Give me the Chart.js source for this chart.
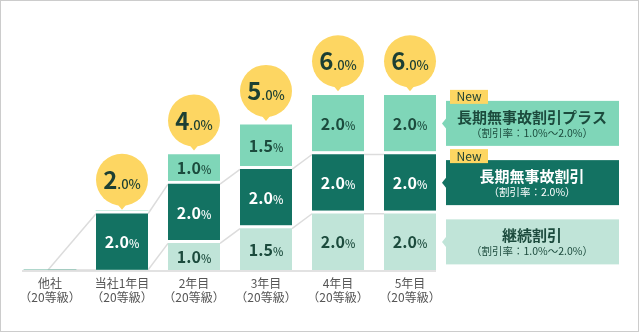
<!DOCTYPE html>
<html>
<head>
<meta charset="utf-8">
<script src="https://cdn.jsdelivr.net/npm/chart.js@4.4.1/dist/chart.umd.min.js"></script>
<style>
  html, body { margin: 0; padding: 0; background: #fff; }
  #wrap { position: relative; width: 640px; height: 333px; }
</style>
</head>
<body>
<div id="wrap"><canvas id="discountChart" width="640" height="333"></canvas></div>
<script>
// categories (x axis, two lines each)
const categories = [
  ['他社', '（20等級）'],
  ['当社1年目', '（20等級）'],
  ['2年目', '（20等級）'],
  ['3年目', '（20等級）'],
  ['4年目', '（20等級）'],
  ['5年目', '（20等級）']
];
// discount rates (%) per year, stacked bottom -> top
const keizoku = [0, 0, 1.0, 1.5, 2.0, 2.0];       // 継続割引
const mujiko = [0, 2.0, 2.0, 2.0, 2.0, 2.0];      // 長期無事故割引
const mujikoPlus = [0, 0, 1.0, 1.5, 2.0, 2.0];    // 長期無事故割引プラス

const seriesNames = ['継続割引', '長期無事故割引', '長期無事故割引プラス'];
const rateNotes = ['（割引率：1.0%〜2.0%）', '（割引率：2.0%）', '（割引率：1.0%〜2.0%）'];
const isNew = [false, true, true];

const colors = ['#c0e4d8', '#137262', '#7fd6b8'];
const textColors = ['#1c4b3d', '#ffffff', '#1c4b3d'];
const GAP = 3;
const FONT = "'Noto Sans CJK JP', 'Noto Sans', sans-serif";

// draws "2.0" big + "%" small, centered on x, at text baseline y
function drawPct(ctx, x, y, num, bigFont, smallFont, color) {
  ctx.font = bigFont;
  const w1 = ctx.measureText(num).width;
  ctx.font = smallFont;
  const w2 = ctx.measureText('%').width;
  let sx = x - (w1 + w2) / 2;
  ctx.fillStyle = color;
  ctx.textAlign = 'left';
  ctx.textBaseline = 'alphabetic';
  ctx.font = bigFont;
  ctx.fillText(num, sx, y);
  ctx.font = smallFont;
  ctx.fillText('%', sx + w1, y);
}

function visTop(el, v) {
  return v > 0 ? el.y + GAP : el.y;
}

const decoPlugin = {
  id: 'deco',
  beforeDatasetsDraw(chart) {
    const ctx = chart.ctx;
    const m0 = chart.getDatasetMeta(0).data;
    const n = m0.length;
    const base = m0[0].base;
    ctx.save();
    // baseline
    ctx.strokeStyle = '#e2e2e2';
    ctx.lineWidth = 2;
    ctx.beginPath();
    ctx.moveTo(m0[0].x - 28, base + 1);
    ctx.lineTo(m0[n - 1].x + m0[n - 1].width / 2, base + 1);
    ctx.stroke();
    // connector lines between the tops of the two lower stacks
    ctx.strokeStyle = '#dcdcdc';
    ctx.lineWidth = 1.5;
    [0, 1].forEach(d => {
      const meta = chart.getDatasetMeta(d).data;
      const vals = chart.data.datasets[d].data;
      for (let i = 0; i < n - 1; i++) {
        const a = meta[i], b = meta[i + 1];
        const x1 = i === 0 ? a.x - 2 : a.x + a.width / 2;
        ctx.beginPath();
        ctx.moveTo(x1, visTop(a, vals[i]));
        ctx.lineTo(b.x - b.width / 2, visTop(b, vals[i + 1]));
        ctx.stroke();
      }
    });
    ctx.restore();
  },
  afterDatasetsDraw(chart) {
    const ctx = chart.ctx;
    const nd = chart.data.datasets.length;
    ctx.save();
    // segment labels
    for (let d = 0; d < nd; d++) {
      const meta = chart.getDatasetMeta(d).data;
      const vals = chart.data.datasets[d].data;
      meta.forEach((el, i) => {
        if (!vals[i]) return;
        const cy = (el.y + GAP + el.base) / 2;
        drawPct(ctx, el.x, cy + 6.5, vals[i].toFixed(1),
          "600 16px " + FONT, "500 11px " + FONT, textColors[d]);
      });
    }
    // total bubbles
    const top = chart.getDatasetMeta(nd - 1).data;
    top.forEach((el, i) => {
      let total = 0;
      chart.data.datasets.forEach(ds => { total += ds.data[i]; });
      if (!total) return;
      const cy = el.y + GAP - 34;
      ctx.fillStyle = '#fdd662';
      ctx.beginPath();
      ctx.arc(el.x, cy, 26, 0, Math.PI * 2);
      ctx.fill();
      ctx.beginPath();
      ctx.moveTo(el.x - 5, cy + 24);
      ctx.lineTo(el.x + 5, cy + 24);
      ctx.lineTo(el.x, cy + 30);
      ctx.closePath();
      ctx.fill();
      const s = total.toFixed(1).split('.');
      ctx.font = "bold 24px " + FONT;
      const w1 = ctx.measureText(s[0]).width;
      ctx.font = "500 13px " + FONT;
      const w2 = ctx.measureText('.' + s[1] + '%').width;
      const sx = el.x - (w1 + w2) / 2;
      ctx.fillStyle = '#1c3f33';
      ctx.textAlign = 'left';
      ctx.textBaseline = 'alphabetic';
      ctx.font = "bold 24px " + FONT;
      ctx.fillText(s[0], sx, cy + 9);
      ctx.font = "500 13px " + FONT;
      ctx.fillText('.' + s[1] + '%', sx + w1, cy + 9);
    });
    // legend boxes next to the last bar
    for (let d = 0; d < nd; d++) {
      const meta = chart.getDatasetMeta(d).data;
      const el = meta[meta.length - 1];
      const cy = (el.y + GAP + el.base) / 2;
      const x0 = el.x + el.width / 2 + 10;
      const y0 = cy - 22.5;
      ctx.fillStyle = colors[d];
      ctx.fillRect(x0, y0, 173, 45);
      ctx.beginPath();
      ctx.moveTo(x0 - 4, cy);
      ctx.lineTo(x0, cy - 5);
      ctx.lineTo(x0, cy + 5);
      ctx.closePath();
      ctx.fill();
      ctx.fillStyle = textColors[d];
      ctx.textAlign = 'center';
      ctx.textBaseline = 'middle';
      ctx.font = "600 15px " + FONT;
      ctx.fillText(seriesNames[d], x0 + 86, y0 + 16);
      ctx.font = "10.5px " + FONT;
      ctx.fillText(rateNotes[d], x0 + 86, y0 + 32);
      if (isNew[d]) {
        ctx.fillStyle = '#fdd662';
        ctx.fillRect(x0 + 4, y0 - 11, 38, 14);
        ctx.fillStyle = '#1c3f33';
        ctx.font = "12px " + FONT;
        ctx.fillText('New', x0 + 23, y0 - 4);
      }
    }
    ctx.restore();
  },
  afterDraw(chart) {
    const ctx = chart.ctx;
    ctx.save();
    ctx.strokeStyle = '#cccccc';
    ctx.lineWidth = 1;
    ctx.strokeRect(0.5, 0.5, 638, 331);
    ctx.restore();
  }
};

new Chart(document.querySelector('#discountChart'), {
  type: 'bar',
  data: {
    labels: categories,
    datasets: [
      { label: seriesNames[0], data: keizoku, backgroundColor: colors[0] },
      { label: seriesNames[1], data: mujiko, backgroundColor: colors[1] },
      { label: seriesNames[2], data: mujikoPlus, backgroundColor: colors[2] }
    ].map(ds => Object.assign(ds, {
      borderColor: '#ffffff',
      borderWidth: { top: GAP, bottom: 0, left: 0, right: 0 },
      borderSkipped: 'start',
      barThickness: 52
    }))
  },
  options: {
    responsive: false,
    animation: false,
    layout: { padding: { left: 14, right: 194, top: 33, bottom: 23 } },
    plugins: { legend: { display: false }, tooltip: { enabled: false } },
    scales: {
      x: {
        stacked: true,
        grid: { display: false },
        border: { display: false },
        ticks: {
          color: '#555555',
          padding: -2,
          font: { family: FONT, size: 12, lineHeight: 1.2 }
        },
        afterFit(scale) { scale.height = 40; }
      },
      y: {
        stacked: true,
        display: false,
        min: 0,
        max: 8
      }
    }
  },
  plugins: [decoPlugin]
});
</script>
</body>
</html>
